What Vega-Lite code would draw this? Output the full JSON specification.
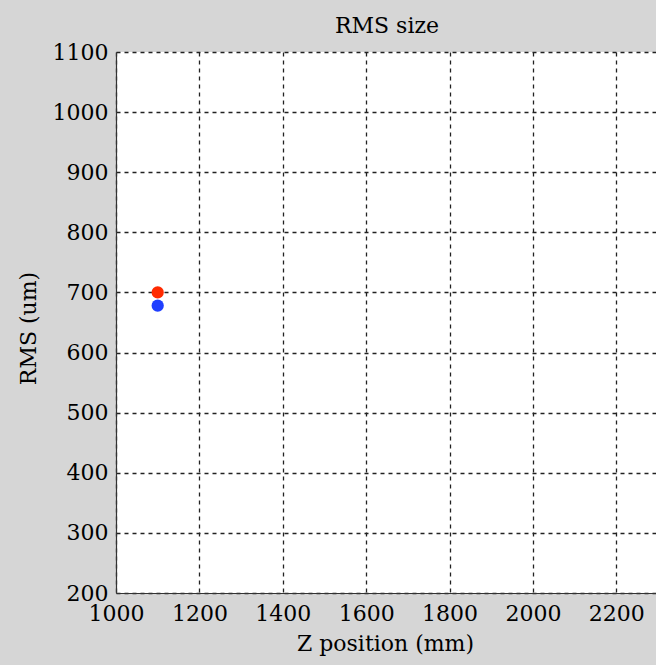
{
  "$schema": "https://vega.github.io/schema/vega-lite/v6.json",
  "autosize": {"type": "none"},
  "width": 542,
  "height": 541,
  "padding": {"left": 116, "top": 52, "right": 0, "bottom": 72},
  "background": "#d6d6d6",
  "title": {
    "text": "RMS size",
    "font": "DejaVu Serif",
    "fontSize": 22,
    "fontWeight": "normal",
    "color": "#000000",
    "anchor": "middle",
    "baseline": "alphabetic",
    "offset": 11,
    "dy": 25
  },
  "config": {
    "view": {"fill": "#ffffff", "stroke": null},
    "axis": {
      "labelFont": "DejaVu Serif",
      "labelFontSize": 22,
      "labelColor": "#000000",
      "titleFont": "DejaVu Serif",
      "titleFontSize": 22,
      "titleFontWeight": "normal",
      "titleColor": "#000000",
      "domainColor": "#333333",
      "domainWidth": 1.2,
      "gridColor": "#222222",
      "gridDash": [4, 4],
      "gridWidth": 1.3,
      "gridOpacity": 1,
      "tickSize": 0,
      "labelFlush": false,
      "labelOverlap": false,
      "format": "d"
    }
  },
  "data": {
    "values": [
      {"z": 1100, "rms": 700, "series": "a"},
      {"z": 1100, "rms": 678, "series": "b"}
    ]
  },
  "mark": {"type": "point", "filled": true, "shape": "circle", "size": 150, "opacity": 1},
  "encoding": {
    "x": {
      "field": "z",
      "type": "quantitative",
      "scale": {"domain": [1000, 2300], "nice": false, "zero": false},
      "axis": {
        "title": "Z position (mm)",
        "values": [1000, 1200, 1400, 1600, 1800, 2000, 2200],
        "labelPadding": 10,
        "titleY": 57,
        "titleBaseline": "alphabetic",
        "titleX": 269
      }
    },
    "y": {
      "field": "rms",
      "type": "quantitative",
      "scale": {"domain": [200, 1100], "nice": false, "zero": false},
      "axis": {
        "title": "RMS (um)",
        "values": [200, 300, 400, 500, 600, 700, 800, 900, 1000, 1100],
        "labelPadding": 8,
        "titleX": -81,
        "titleY": 276,
        "titleBaseline": "alphabetic",
        "titleAngle": -90,
        "titleAlign": "center"
      }
    },
    "color": {
      "field": "series",
      "type": "nominal",
      "scale": {"domain": ["a", "b"], "range": ["#ff2a00", "#1f3fff"]},
      "legend": null
    }
  }
}
